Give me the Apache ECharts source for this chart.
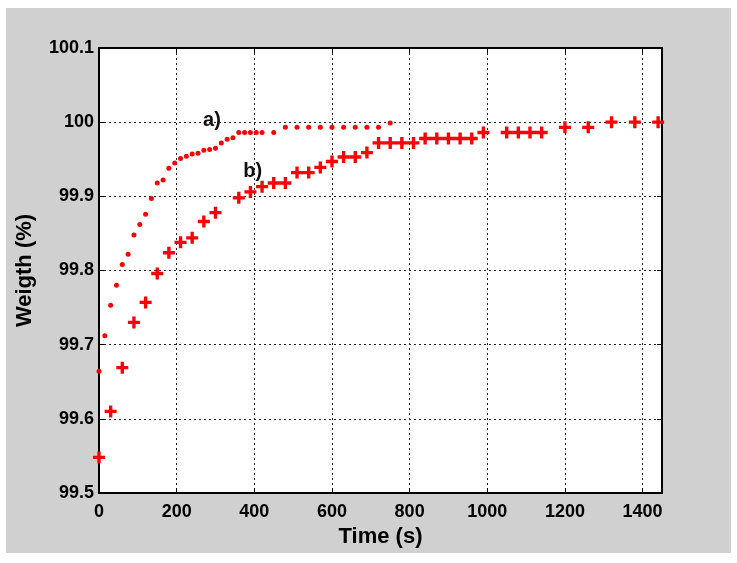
<!DOCTYPE html>
<html>
<head>
<meta charset="utf-8">
<script src="https://cdn.jsdelivr.net/npm/echarts@6/dist/echarts.min.js"></script>
<style>
  html, body { margin: 0; padding: 0; background: #fff; }
  #chart { width: 737px; height: 563px; }
</style>
</head>
<body>
<div id="chart"></div>
<script>
// series a) - dots
var timeA = [0, 15, 30, 45, 60, 75, 90, 105, 120, 135, 150, 165, 180, 195, 210, 225, 240, 255, 270, 285,
  300, 315, 330, 345, 360, 375, 390, 405, 420, 450, 480, 510, 540, 570, 600, 630, 660, 690, 720, 750];
var weightA = [99.664, 99.712, 99.753, 99.780, 99.808, 99.822, 99.848, 99.862, 99.876, 99.897,
  99.918, 99.922, 99.938, 99.945, 99.951, 99.954, 99.957, 99.958, 99.962, 99.963,
  99.965, 99.972, 99.977, 99.979, 99.986, 99.986, 99.986, 99.986, 99.986, 99.986,
  99.993, 99.993, 99.993, 99.993, 99.993, 99.993, 99.993, 99.993, 99.993, 99.999];

// series b) - pluses
var timeB = [0, 30, 60, 90, 120, 150, 180, 210, 240, 270, 300,
  360, 390, 420, 450, 480, 510, 540, 570, 600, 630, 660, 690, 720, 750, 780, 810, 840, 870, 900, 930, 960, 990,
  1050, 1080, 1110, 1140, 1200, 1260, 1320, 1380, 1440];
var weightB = [99.548, 99.610, 99.669, 99.730, 99.757, 99.796, 99.824, 99.838, 99.844, 99.866, 99.878,
  99.898, 99.906, 99.913, 99.918, 99.918, 99.932, 99.932, 99.939, 99.947, 99.953, 99.953, 99.959,
  99.972, 99.972, 99.972, 99.972, 99.978, 99.978, 99.978, 99.978, 99.978, 99.986,
  99.986, 99.986, 99.986, 99.986, 99.993, 99.993, 100.0, 100.0, 100.0];

// labels next to the curves
var curveLabels = [
  { text: 'a)', x: 291, y: 100.002 },
  { text: 'b)', x: 396, y: 99.933 }
];

function pairs(xs, ys) {
  return xs.map(function (x, i) { return [x, ys[i]]; });
}

var FONT = '"Liberation Sans", Arial, sans-serif';
var PLUS = 'path://M3.6,0H6.4V3.6H10V6.4H6.4V10H3.6V6.4H0V3.6H3.6Z';

var chart = echarts.init(document.getElementById('chart'));

var axisCommon = {
  type: 'value',
  axisLine: { show: true, onZero: false, lineStyle: { color: '#000', width: 2 } },
  axisTick: { show: true, inside: true, length: 5, lineStyle: { color: '#000', width: 1 } }
};

chart.setOption({
  backgroundColor: '#fff',
  animation: false,
  graphic: [{
    type: 'rect',
    shape: { x: 6, y: 8, width: 725, height: 545 },
    style: { fill: '#d0d0d0' },
    z: -10
  }],
  grid: {
    left: 99, right: 75, top: 48, bottom: 70,
    show: true, backgroundColor: '#fff', borderWidth: 0
  },
  xAxis: [
    Object.assign({}, axisCommon, {
      position: 'bottom',
      min: 0, max: 1450, interval: 200,
      name: 'Time (s)', nameLocation: 'middle', nameGap: 29,
      nameTextStyle: { color: '#000', fontFamily: FONT, fontWeight: 'bold', fontSize: 22 },
      axisLabel: {
        color: '#000', fontFamily: FONT, fontWeight: 'bold', fontSize: 18, margin: 10, showMaxLabel: false,
        formatter: function (v) { return String(v); }
      },
      splitLine: { show: true, lineStyle: { color: '#222', type: [2, 3], width: 1 } }
    }),
    Object.assign({}, axisCommon, {
      position: 'top',
      min: 0, max: 1450, interval: 200,
      axisLabel: { show: false },
      splitLine: { show: false }
    })
  ],
  yAxis: [
    Object.assign({}, axisCommon, {
      position: 'left',
      min: 99.5, max: 100.1, interval: 0.1,
      name: 'Weigth (%)', nameLocation: 'middle', nameGap: 63,
      nameTextStyle: { color: '#000', fontFamily: FONT, fontWeight: 'bold', fontSize: 22 },
      axisLabel: {
        color: '#000', fontFamily: FONT, fontWeight: 'bold', fontSize: 18, margin: 5,
        formatter: function (v) { return String(parseFloat(v.toFixed(1))); }
      },
      splitLine: { show: true, lineStyle: { color: '#222', type: [2, 3], width: 1 } }
    }),
    Object.assign({}, axisCommon, {
      position: 'right',
      min: 99.5, max: 100.1, interval: 0.1,
      axisLabel: { show: false },
      splitLine: { show: false }
    })
  ],
  series: [
    {
      name: 'a)',
      type: 'scatter',
      symbol: 'circle',
      symbolSize: 5,
      itemStyle: { color: '#ff0000', opacity: 1 },
      data: pairs(timeA, weightA),
      markPoint: {
        symbol: 'circle', symbolSize: 0,
        label: { show: true, color: '#111', fontFamily: FONT, fontWeight: 'bold', fontSize: 20,
          formatter: function (p) { return p.name; } },
        data: [{ name: curveLabels[0].text, coord: [curveLabels[0].x, curveLabels[0].y] }]
      }
    },
    {
      name: 'b)',
      type: 'scatter',
      symbol: PLUS,
      symbolSize: 12,
      itemStyle: { color: '#ff0000', opacity: 1 },
      data: pairs(timeB, weightB),
      markPoint: {
        symbol: 'circle', symbolSize: 0,
        label: { show: true, color: '#111', fontFamily: FONT, fontWeight: 'bold', fontSize: 20,
          formatter: function (p) { return p.name; } },
        data: [{ name: curveLabels[1].text, coord: [curveLabels[1].x, curveLabels[1].y] }]
      }
    }
  ]
});
</script>
</body>
</html>
